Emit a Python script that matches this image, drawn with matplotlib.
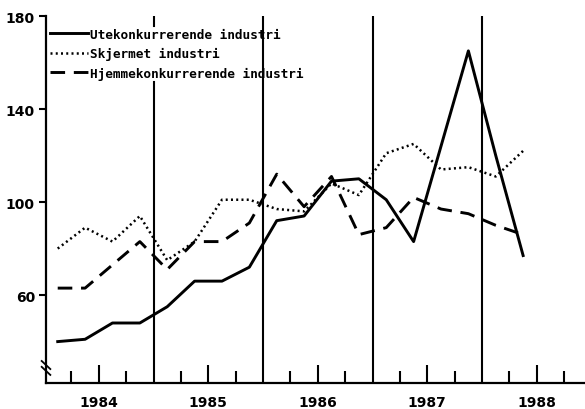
import matplotlib
matplotlib.use('Agg')
import matplotlib.pyplot as plt
import numpy as np
import pandas as pd

# quarterly index, 1984Q1 - 1988Q2
quarters = pd.period_range('1984Q1', '1988Q2', freq='Q')

ute = [40, 41, 48, 48, 55, 66, 66, 72, 92, 94, 109, 110, 101, 83, 124, 165, 120, 77]
skjermet = [80, 89, 83, 94, 75, 83, 101, 101, 97, 96, 108, 103, 121, 125, 114, 115, 111, 122]
hjemme = [63, 63, 73, 83, 71, 83, 83, 91, 112, 98, 111, 86, 89, 102, 97, 95, 90, 86]

labels = ['Utekonkurrerende industri', 'Skjermet industri', 'Hjemmekonkurrerende industri']
years = [1984, 1985, 1986, 1987, 1988]
year_breaks = [1985, 1986, 1987, 1988]
yticks = [60, 100, 140, 180]

x = np.array([p.year + (p.quarter - 0.5) / 4 for p in quarters])

fig = plt.figure(figsize=(5.85, 4.10), dpi=100)
ax = fig.add_axes([46 / 585, 1 - 384 / 410, 1 - 46 / 585, (384 - 17) / 410])

ax.set_xlim(1984.018, 1988.94)
ax.set_ylim(22.2, 180)

# vertical year separators (the first one is cut where the legend sits)
for yb in year_breaks:
    if yb == 1985:
        ax.plot([yb, yb], [22.2, 151.5], color='black', lw=1.5, zorder=1)
        ax.plot([yb, yb], [175.5, 180], color='black', lw=1.5, zorder=1)
    else:
        ax.axvline(yb, color='black', lw=1.5, zorder=1)

ax.plot(x, ute, color='black', lw=2.1, solid_joinstyle='round', label=labels[0])
ax.plot(x, skjermet, color='black', lw=1.8, linestyle=(0, (0.8, 1.3)), label=labels[1])
ax.plot(x, hjemme, color='black', lw=2.1, linestyle=(0, (5, 3)), label=labels[2])

# spines
for s in ['top', 'right']:
    ax.spines[s].set_visible(False)
for s in ['left', 'bottom']:
    ax.spines[s].set_linewidth(1.6)

# y axis
ax.set_yticks(yticks)
ax.set_yticklabels([str(v) for v in yticks], fontsize=10, fontweight='bold')
ax.tick_params(axis='y', direction='out', length=5, width=1.5, pad=3)

# x axis: tall ticks mid-year, short ticks at quarter boundaries
ax.set_xticks([y + 0.5 for y in years])
ax.set_xticklabels([str(y) for y in years], fontsize=10, fontweight='bold')
ax.set_xticks([y + q for y in years for q in (0.25, 0.75)], minor=True)
ax.tick_params(axis='x', which='major', direction='in', length=13, width=1.5, pad=9)
ax.tick_params(axis='x', which='minor', direction='in', length=9, width=1.5)

# axis break mark
for dy in (0.0, -0.016):
    ax.plot([-0.008, 0.008], [0.06 + dy, 0.038 + dy], transform=ax.transAxes,
            color='black', lw=1.3, clip_on=False)

leg = ax.legend(loc='upper left', bbox_to_anchor=(0.007, 0.968), frameon=False,
                borderpad=0, borderaxespad=0, handlelength=3.0, handletextpad=0.15,
                labelspacing=0.5, prop={'family': 'DejaVu Sans Mono', 'size': 9.2,
                                        'weight': 'bold'})

fig.savefig('out.png', dpi=100)
